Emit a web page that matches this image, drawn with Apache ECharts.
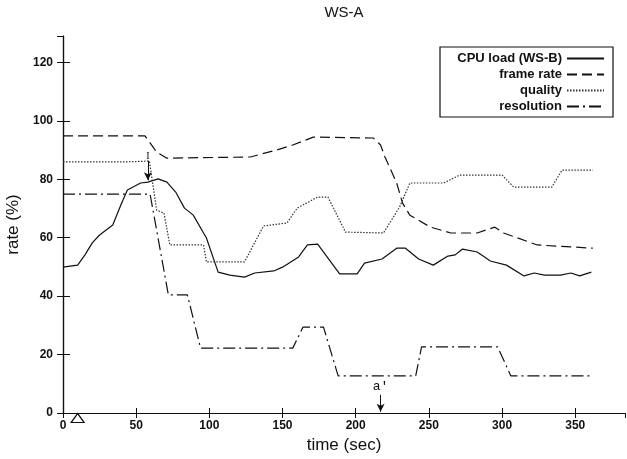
<!DOCTYPE html>
<html>
<head>
<meta charset="utf-8">
<script src="https://cdn.jsdelivr.net/npm/echarts@6/dist/echarts.min.js"></script>
<style>
  html, body { margin: 0; padding: 0; background: #fff; }
  #main { width: 627px; height: 459px; }
</style>
</head>
<body>
<div id="main"></div>
<script>
// values (time in sec, rate in %)
var cpuTime = [0, 10, 15, 20, 25, 34, 40, 44, 53, 58, 65, 71, 77, 83, 89, 98, 106, 114, 124, 131, 144, 150, 161, 167, 174, 189, 201, 206, 218, 228, 234, 243, 253, 263, 268, 273, 283, 292, 303, 315, 322, 329, 340, 347, 353, 361];
var cpuLoad = [49.9, 50.6, 54.1, 58.2, 60.9, 64.3, 71.8, 76.3, 78.7, 79, 80.1, 79, 75.6, 70.1, 67.7, 59.9, 48.2, 47.2, 46.5, 47.9, 48.6, 49.9, 53.4, 57.5, 57.8, 47.6, 47.6, 51.3, 52.7, 56.4, 56.4, 52.7, 50.6, 53.7, 54.1, 56.1, 55.1, 52, 50.6, 46.9, 47.9, 47.2, 47.2, 47.9, 46.9, 48.2];

var frameTime = [0, 56, 64, 71, 128, 146, 157, 171, 212, 217, 220, 228, 232, 237, 251, 265, 283, 295, 301, 324, 362];
var frameRate = [94.8, 94.8, 89.3, 87.2, 87.6, 90, 91.7, 94.4, 94.1, 91.7, 87.6, 78.7, 71.8, 67.7, 63.6, 61.6, 61.6, 63.6, 61.6, 57.5, 56.4];

var qualityTime = [0, 41, 59, 64, 69, 73, 96, 98, 124, 137, 153, 160, 174, 181, 193, 219, 230, 237, 260, 271, 300, 308, 334, 341, 362];
var quality = [85.9, 85.9, 86.2, 69.4, 68.4, 57.5, 57.5, 51.7, 51.7, 64, 65, 70.1, 73.9, 73.9, 61.9, 61.6, 70.5, 78.7, 78.7, 81.4, 81.4, 77.3, 77.3, 83.1, 83.1];

var resTime = [0, 59.5, 72, 85, 94, 157, 164, 178, 188, 241, 245, 297, 306, 362];
var resolution = [74.9, 74.9, 40.4, 40.4, 22.2, 22.2, 29.4, 29.4, 12.7, 12.7, 22.6, 22.6, 12.7, 12.7];

var seriesNames = ['CPU load (WS-B)', 'frame rate', 'quality', 'resolution'];
var xTicks = { min: 0, max: 384, interval: 50 };
var yTicks = { min: 0, max: 129, interval: 20 };

function pairs(t, v) {
  return t.map(function (x, i) { return [x, v[i]]; });
}

var ink = '#111';
var font = 'Liberation Sans, Arial, sans-serif';

var chart = echarts.init(document.getElementById('main'), null, { renderer: 'canvas' });

function lineSeries(name, data, type, color) {
  return {
    name: name,
    type: 'line',
    data: data,
    symbol: 'none',
    smooth: false,
    animation: false,
    lineStyle: { color: color || ink, width: 1.2, type: type },
    itemStyle: { color: color || ink }
  };
}

var cpu = lineSeries(seriesNames[0], pairs(cpuTime, cpuLoad), 'solid');
cpu.markLine = {
  silent: true,
  animation: false,
  symbol: ['none', 'arrow'],
  symbolSize: [6, 8],
  lineStyle: { color: ink, width: 1, type: 'solid' },
  label: { show: false },
  data: [
    [{ coord: [58, 86.3] }, { coord: [58, 79.6] }],
    [{ coord: [217, 6.2], label: { show: true, position: 'start', formatter: "a'", distance: 2,
        color: ink, fontFamily: 'Liberation Mono, monospace', fontSize: 13 } },
     { coord: [217, 0.4] }]
  ]
};
cpu.markPoint = {
  silent: true,
  animation: false,
  data: [
    { coord: [58, 87.8], symbol: 'rect', symbolSize: [1, 1],
      itemStyle: { color: 'rgba(0,0,0,0)' },
      label: { show: true, formatter: 'I', position: 'inside', color: ink,
        fontFamily: 'Liberation Serif, serif', fontSize: 10 } },
    { coord: [10, 0], symbol: 'triangle', symbolSize: [13, 9], symbolOffset: [0, 5],
      itemStyle: { color: '#fff', borderColor: ink, borderWidth: 1.2 },
      label: { show: false } }
  ]
};

var series = [
  cpu,
  lineSeries(seriesNames[1], pairs(frameTime, frameRate), [10, 5]),
  lineSeries(seriesNames[2], pairs(qualityTime, quality), [1.5, 1.5], '#333'),
  lineSeries(seriesNames[3], pairs(resTime, resolution), [12, 4, 2, 4])
];

// one legend per row so the texts align on the right like the original
var rowCenters = [58, 74, 90, 106];
var legends = seriesNames.map(function (n, i) {
  return {
    data: [n],
    orient: 'vertical',
    right: 22,
    top: rowCenters[i] - 6,
    padding: 0,
    align: 'right',
    itemWidth: 37,
    itemHeight: 12,
    selectedMode: false,
    itemStyle: { opacity: 0 },
    textStyle: { color: ink, fontFamily: font, fontSize: 13, fontWeight: 'bold' }
  };
});

var axisLine = { show: true, lineStyle: { color: ink, width: 1.2 } };

var option = {
  backgroundColor: '#fff',
  animation: false,
  grid: { left: 63, right: 2, top: 36, bottom: 46, containLabel: false, outerBoundsMode: 'none' },
  legend: legends,
  xAxis: [{
    type: 'value',
    position: 'bottom',
    min: xTicks.min, max: xTicks.max, interval: xTicks.interval,
    name: 'time (sec)',
    nameLocation: 'middle',
    nameGap: 22,
    nameTextStyle: { color: ink, fontFamily: font, fontSize: 17 },
    axisLine: axisLine,
    axisTick: { show: true, inside: true, length: 5, lineStyle: { color: ink } },
    axisLabel: { color: ink, fontFamily: font, fontSize: 12, fontWeight: 'bold', margin: 7, showMaxLabel: false },
    splitLine: { show: false }
  }, {
    type: 'value',
    position: 'top',
    min: xTicks.min, max: xTicks.max, interval: xTicks.interval,
    name: 'WS-A',
    nameLocation: 'middle',
    nameGap: 16,
    nameTextStyle: { color: ink, fontFamily: font, fontSize: 15 },
    axisLine: axisLine,
    axisTick: { show: true, inside: true, length: 5, lineStyle: { color: ink } },
    axisLabel: { show: false },
    splitLine: { show: false }
  }],
  yAxis: [{
    type: 'value',
    position: 'left',
    min: yTicks.min, max: yTicks.max, interval: yTicks.interval,
    name: 'rate (%)',
    nameLocation: 'middle',
    nameGap: 35,
    nameTextStyle: { color: ink, fontFamily: font, fontSize: 17 },
    axisLine: axisLine,
    axisTick: { show: true, inside: true, length: 7, lineStyle: { color: ink } },
    axisLabel: { color: ink, fontFamily: font, fontSize: 12, fontWeight: 'bold', margin: 10, showMaxLabel: false },
    splitLine: { show: false }
  }, {
    type: 'value',
    position: 'right',
    min: yTicks.min, max: yTicks.max, interval: yTicks.interval,
    axisLine: axisLine,
    axisTick: { show: true, inside: true, length: 6, lineStyle: { color: ink } },
    axisLabel: { show: false },
    splitLine: { show: false }
  }],
  graphic: [{
    type: 'rect',
    silent: true,
    z: 1,
    shape: { x: 440, y: 47, width: 173, height: 70 },
    style: { fill: '#fff', stroke: ink, lineWidth: 1.2 }
  }],
  series: series
};

chart.setOption(option);
</script>
</body>
</html>
